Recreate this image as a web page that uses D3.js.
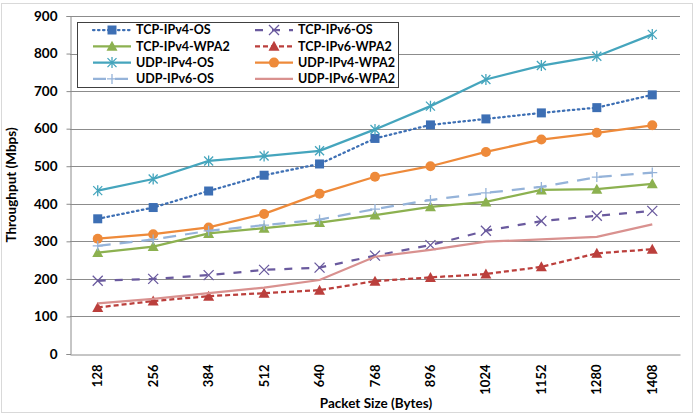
<!DOCTYPE html>
<html>
<head>
<meta charset="utf-8">
<script src="https://cdn.jsdelivr.net/npm/d3@7"></script>
<style>
  body { margin: 0; background: #fff; }
  svg text { font-family: Lato, "Open Sans", sans-serif; font-weight: bold; fill: #000; }
</style>
</head>
<body>
<svg id="chart" width="697" height="415"></svg>
<script>
// Chart data
const packetSizes = ['128', '256', '384', '512', '640', '768', '896', '1024', '1152', '1280', '1408'];
const yTicks = [0, 100, 200, 300, 400, 500, 600, 700, 800, 900];

const tcpIpv4Os   = [360, 390, 434, 476, 506, 574, 610, 626, 642, 656, 690];
const tcpIpv6Os   = [195, 200, 210, 224, 230, 262, 290, 328, 354, 368, 381];
const tcpIpv4Wpa2 = [270, 286, 321, 335, 350, 370, 392, 405, 437, 439, 453];
const tcpIpv6Wpa2 = [124, 141, 154, 162, 170, 194, 204, 213, 232, 268, 279];
const udpIpv4Os   = [435, 466, 514, 527, 541, 598, 660, 731, 768, 793, 851];
const udpIpv4Wpa2 = [307, 319, 337, 373, 427, 472, 500, 538, 571, 589, 609];
const udpIpv6Os   = [288, 305, 328, 343, 358, 386, 410, 429, 445, 471, 483];
const udpIpv6Wpa2 = [135, 147, 162, 177, 197, 259, 277, 299, 305, 312, 345];

const series = [
  { name: 'TCP-IPv4-OS',   values: tcpIpv4Os,   color: '#3d6fb4', dash: '1.5,3.5', cap: 'round', marker: 'square' },
  { name: 'TCP-IPv6-OS',   values: tcpIpv6Os,   color: '#6a5a9e', dash: '8,9',     cap: 'butt',  marker: 'x' },
  { name: 'TCP-IPv4-WPA2', values: tcpIpv4Wpa2, color: '#8cb150', dash: null,      cap: 'butt',  marker: 'triangle' },
  { name: 'TCP-IPv6-WPA2', values: tcpIpv6Wpa2, color: '#bb3f3c', dash: '5,3',     cap: 'butt',  marker: 'triangle' },
  { name: 'UDP-IPv4-OS',   values: udpIpv4Os,   color: '#45a5bd', dash: null,      cap: 'butt',  marker: 'star' },
  { name: 'UDP-IPv4-WPA2', values: udpIpv4Wpa2, color: '#ee8a3a', dash: null,      cap: 'butt',  marker: 'circle' },
  { name: 'UDP-IPv6-OS',   values: udpIpv6Os,   color: '#95b3d9', dash: '13,9',    cap: 'butt',  marker: 'plus' },
  { name: 'UDP-IPv6-WPA2', values: udpIpv6Wpa2, color: '#d9918f', dash: null,      cap: 'butt',  marker: 'none' }
];

const svg = d3.select('#chart');

// Outer frame
svg.append('rect')
  .attr('x', 1.5).attr('y', 3.5)
  .attr('width', 691).attr('height', 409)
  .attr('fill', 'none').attr('stroke', '#d9d9d9').attr('stroke-width', 1);

const plotLeft = 70, plotRight = 680, plotTop = 16, plotBottom = 354;

const x = d3.scaleBand().domain(packetSizes).range([plotLeft, plotRight]);
const y = d3.scaleLinear().domain([0, 900]).range([plotBottom, plotTop]);

// Gridlines
svg.append('g')
  .selectAll('line')
  .data(yTicks.filter(d => d > 0))
  .enter().append('line')
  .attr('x1', plotLeft).attr('x2', plotRight)
  .attr('y1', d => Math.round(y(d)) + 0.5)
  .attr('y2', d => Math.round(y(d)) + 0.5)
  .attr('stroke', '#8c8c8c').attr('stroke-width', 1);

// Axes
const yAxis = svg.append('g')
  .attr('transform', `translate(${plotLeft + 0.5},0)`)
  .call(d3.axisLeft(y).tickValues(yTicks).tickSize(4).tickPadding(9));
yAxis.select('.domain').attr('stroke', '#8c8c8c');
yAxis.selectAll('.tick line').attr('stroke', '#8c8c8c');
yAxis.selectAll('.tick text').style('font-size', '13.5px');

const xAxis = svg.append('g')
  .attr('transform', `translate(0,${plotBottom + 0.5})`)
  .call(d3.axisBottom(x).tickSize(0).tickPadding(0));
xAxis.select('.domain').attr('stroke', '#8c8c8c');
xAxis.selectAll('.tick text')
  .style('font-size', '13px')
  .attr('transform', 'rotate(-90)')
  .attr('text-anchor', 'end')
  .attr('x', -10)
  .attr('y', 0)
  .attr('dy', '0.35em');

// Axis titles
svg.append('text')
  .attr('transform', 'translate(16,185) rotate(-90)')
  .attr('text-anchor', 'middle')
  .style('font-size', '13.5px')
  .text('Throughput (Mbps)');

svg.append('text')
  .attr('x', 376).attr('y', 408)
  .attr('text-anchor', 'middle')
  .style('font-size', '13.5px')
  .text('Packet Size (Bytes)');

// Markers
function drawMarker(g, type, color) {
  if (type === 'square') {
    g.append('rect').attr('x', -4.5).attr('y', -4.5).attr('width', 9).attr('height', 9).attr('fill', color);
  } else if (type === 'triangle') {
    g.append('path').attr('d', 'M0,-5.5L5.5,4.5L-5.5,4.5Z').attr('fill', color);
  } else if (type === 'circle') {
    g.append('circle').attr('r', 5).attr('fill', color);
  } else if (type === 'x') {
    g.append('path').attr('d', 'M-5,-5L5,5M-5,5L5,-5').attr('stroke', color).attr('stroke-width', 1.3).attr('fill', 'none');
  } else if (type === 'plus') {
    g.append('path').attr('d', 'M-5,0L5,0M0,-5L0,5').attr('stroke', color).attr('stroke-width', 1.3).attr('fill', 'none');
  } else if (type === 'star') {
    g.append('path').attr('d', 'M-4.5,-4.5L4.5,4.5M-4.5,4.5L4.5,-4.5M0,-5.5L0,5.5').attr('stroke', color).attr('stroke-width', 1.3).attr('fill', 'none');
  }
}

const line = d3.line()
  .x((d, i) => x(packetSizes[i]) + x.bandwidth() / 2)
  .y(d => y(d));

// Draw series
series.forEach(s => {
  svg.append('path')
    .datum(s.values)
    .attr('d', line)
    .attr('fill', 'none')
    .attr('stroke', s.color)
    .attr('stroke-width', 2.25)
    .attr('stroke-linecap', s.cap)
    .attr('stroke-dasharray', s.dash);
  s.values.forEach((v, i) => {
    const g = svg.append('g')
      .attr('transform', `translate(${x(packetSizes[i]) + x.bandwidth() / 2},${y(v)})`);
    drawMarker(g, s.marker, s.color);
  });
});

// Legend
const legend = svg.append('g');
legend.append('rect')
  .attr('x', 77.5).attr('y', 22.5)
  .attr('width', 321).attr('height', 65)
  .attr('fill', '#fff').attr('stroke', '#404040').attr('stroke-width', 1);

const legendOrder = ['TCP-IPv4-OS', 'TCP-IPv6-OS', 'TCP-IPv4-WPA2', 'TCP-IPv6-WPA2',
                     'UDP-IPv4-OS', 'UDP-IPv4-WPA2', 'UDP-IPv6-OS', 'UDP-IPv6-WPA2'];
legendOrder.forEach((name, i) => {
  const s = series.find(d => d.name === name);
  const col = i % 2, row = Math.floor(i / 2);
  const lx = col === 0 ? 93 : 255;
  const ly = 30 + row * 16.3;
  const item = legend.append('g').attr('transform', `translate(${lx},${ly})`);
  item.append('line')
    .attr('x1', 0).attr('x2', 38).attr('y1', 0).attr('y2', 0)
    .attr('stroke', s.color).attr('stroke-width', 2.25)
    .attr('stroke-linecap', s.cap)
    .attr('stroke-dasharray', s.dash);
  drawMarker(item.append('g').attr('transform', 'translate(19,0)'), s.marker, s.color);
  item.append('text')
    .attr('x', 43).attr('y', 0).attr('dy', '0.35em')
    .style('font-size', '12.5px')
    .text(name);
});
</script>
</body>
</html>
